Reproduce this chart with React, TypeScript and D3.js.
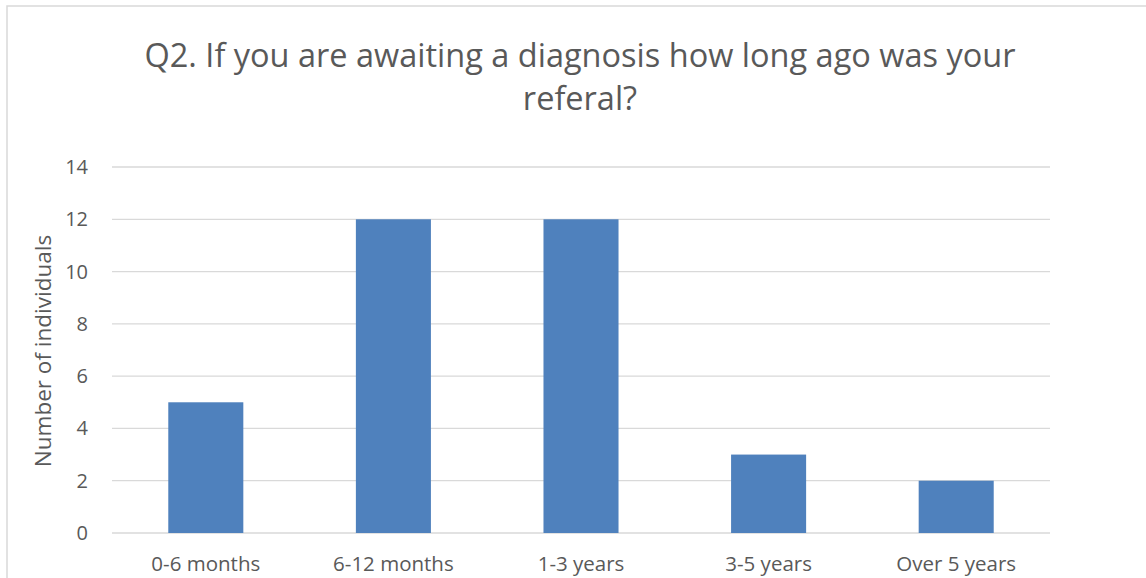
import React from "react";
import * as d3 from "d3";

const categories = ["0-6 months", "6-12 months", "1-3 years", "3-5 years", "Over 5 years"];
const values = [5, 12, 12, 3, 2];
const yTicks = [0, 2, 4, 6, 8, 10, 12, 14];
const titleLines = ["Q2. If you are awaiting a diagnosis how long ago was your", "referal?"];
const yAxisLabel = "Number of individuals";

const W = 1146;
const H = 578;
const FONT = "'Open Sans', 'Liberation Sans', sans-serif";

export default function App() {
  const x = d3.scaleBand<string>().domain(categories).range([112, 1050]).paddingInner(0.6).paddingOuter(0.3);
  const y = d3.scaleLinear().domain([0, 14]).range([533, 167]);
  const textColor = "#595959";
  return (
    <svg width={W} height={H} style={{ position: "absolute", left: 0, top: 0 }} fontFamily={FONT}>
      <rect x={0} y={0} width={W} height={H} fill="#fff" />
      <rect x={7} y={6} width={W + 20} height={H + 20} fill="#fff" stroke="#d9d9d9" strokeWidth={1.5} />
      {titleLines.map((t, i) => (
        <text key={i} x={580} y={67 + i * 43} textAnchor="middle" fontSize={32.5} fill={textColor}>
          {t}
        </text>
      ))}
      {yTicks.map((t) => (
        <g key={t}>
          <line x1={112} x2={1050} y1={y(t)} y2={y(t)} stroke="#d9d9d9" strokeWidth={1.3} />
          <text x={88} y={y(t)} dy="0.35em" textAnchor="end" fontSize={20} fill={textColor}>
            {t}
          </text>
        </g>
      ))}
      {categories.map((c, i) => (
        <g key={c}>
          <rect x={x(c)} y={y(values[i])} width={x.bandwidth()} height={y(0) - y(values[i])} fill="#4F81BD" />
          <text x={(x(c) as number) + x.bandwidth() / 2} y={571} textAnchor="middle" fontSize={20.5} fill={textColor}>
            {c}
          </text>
        </g>
      ))}
      <text transform={`translate(51,351) rotate(-90)`} textAnchor="middle" fontSize={22.5} fill={textColor}>
        {yAxisLabel}
      </text>
    </svg>
  );
}
